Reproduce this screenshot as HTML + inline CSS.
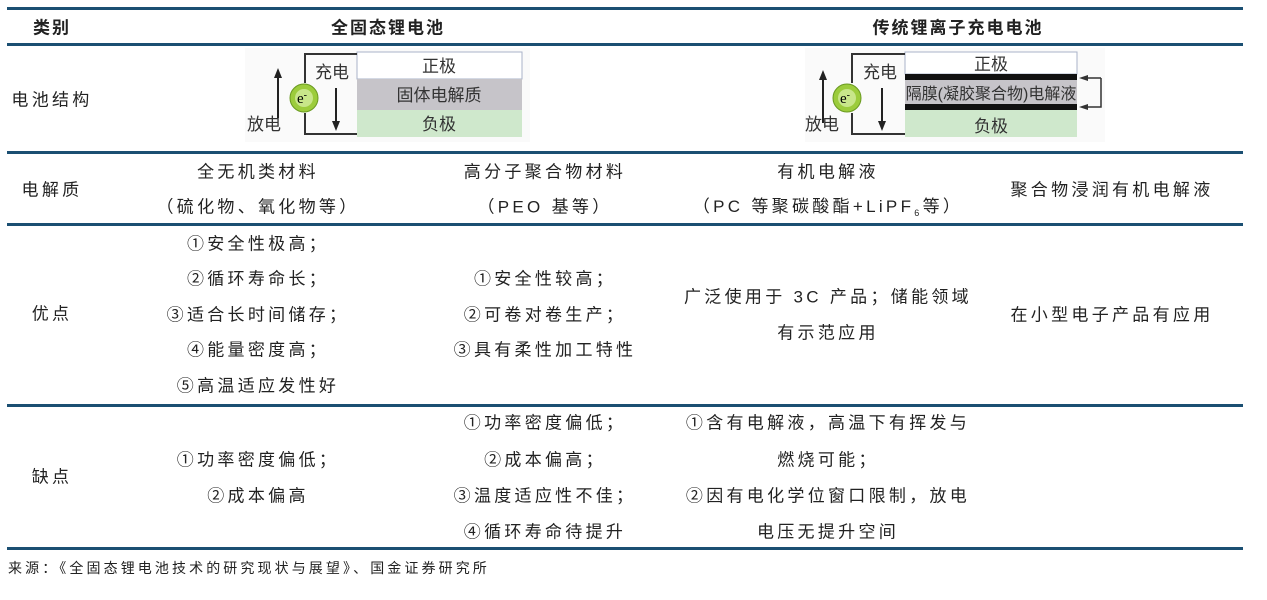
<!DOCTYPE html>
<html><head><meta charset="utf-8"><style>
body{margin:0;width:1267px;height:600px;background:#fff;position:relative;overflow:hidden;font-family:"Liberation Sans","Noto Sans CJK SC",sans-serif;color:#222}
.h{position:absolute;left:7px;width:1236px;height:3px;background:#1b4f72}
.t{position:absolute;transform:translate(-50%,-50%);white-space:nowrap;font-size:17px;letter-spacing:3.3px}
.b{font-weight:bold;letter-spacing:2px}
</style></head><body>
<div class="h" style="top:7px"></div>
<div class="h" style="top:43px"></div>
<div class="h" style="top:151px"></div>
<div class="h" style="top:223px"></div>
<div class="h" style="top:404px"></div>
<div class="h" style="top:547px"></div>

<div class="t b" style="left:52px;top:26px">类别</div>
<div class="t b" style="left:388px;top:26px">全固态锂电池</div>
<div class="t b" style="left:958px;top:26px">传统锂离子充电电池</div>

<div class="t" style="left:52px;top:98px">电池结构</div>
<div class="t" style="left:52px;top:188px">电解质</div>
<div class="t" style="left:52px;top:312px">优点</div>
<div class="t" style="left:52px;top:475px">缺点</div>

<svg style="position:absolute;left:245px;top:48px" width="285" height="94">
<rect x="0" y="0" width="285" height="94" fill="#fafafa"/>
<rect x="112" y="4" width="165" height="27" fill="#fff" stroke="#a9b3c8"/>
<rect x="112" y="31" width="165" height="31" fill="#c6c4c9"/>
<rect x="112" y="62" width="165" height="27" fill="#cfe8cc"/>
<path d="M112 6 H60 V35 M60 65 V86 H112" fill="none" stroke="#333" stroke-width="2"/>
<circle cx="59" cy="50" r="14" fill="#9ccc3c" stroke="#6a9a20"/>
<circle cx="59" cy="50" r="9" fill="#c8e68a"/>
<text x="52" y="55" font-size="15" font-family="Liberation Serif">e<tspan font-size="10" dy="-5">-</tspan></text>
<path d="M33 70 V28" stroke="#222" stroke-width="2"/><path d="M29 30 L33 20 L37 30Z" fill="#222"/>
<path d="M91 40 V75" stroke="#222" stroke-width="2"/><path d="M87 73 L91 83 L95 73Z" fill="#222"/>
<text x="70" y="30" font-size="17" fill="#333">充电</text>
<text x="2" y="82" font-size="17" fill="#333">放电</text>
<text x="194" y="24" font-size="17" fill="#333" text-anchor="middle">正极</text>
<text x="194" y="53" font-size="17" fill="#333" text-anchor="middle">固体电解质</text>
<text x="194" y="82" font-size="17" fill="#333" text-anchor="middle">负极</text>
</svg>

<svg style="position:absolute;left:805px;top:48px" width="300" height="94">
<rect x="0" y="0" width="300" height="94" fill="#fafafa"/>
<rect x="100" y="4" width="172" height="22" fill="#fff" stroke="#a9b3c8"/>
<rect x="100" y="26" width="172" height="6" fill="#111"/>
<rect x="100" y="32" width="172" height="24" fill="#c6c4c9"/>
<rect x="100" y="56" width="172" height="6" fill="#111"/>
<rect x="100" y="62" width="172" height="27" fill="#cfe8cc"/>
<path d="M100 6 H47 V35 M47 65 V86 H100" fill="none" stroke="#333" stroke-width="2"/>
<circle cx="42" cy="50" r="14" fill="#9ccc3c" stroke="#6a9a20"/>
<circle cx="42" cy="50" r="9" fill="#c8e68a"/>
<text x="35" y="55" font-size="15" font-family="Liberation Serif">e<tspan font-size="10" dy="-5">-</tspan></text>
<path d="M18 75 V30" stroke="#222" stroke-width="2"/><path d="M14 32 L18 22 L22 32Z" fill="#222"/>
<path d="M77 40 V75" stroke="#222" stroke-width="2"/><path d="M73 73 L77 83 L81 73Z" fill="#222"/>
<path d="M296 30 H282 M296 30 V59 H282" fill="none" stroke="#333" stroke-width="1.5"/>
<path d="M274 30 L283 27 L283 33Z M274 59 L283 56 L283 62Z" fill="#333"/>
<text x="58" y="30" font-size="17" fill="#333">充电</text>
<text x="0" y="82" font-size="17" fill="#333">放电</text>
<text x="186" y="22" font-size="17" fill="#333" text-anchor="middle">正极</text>
<text x="186" y="51" font-size="16" fill="#333" text-anchor="middle">隔膜(凝胶聚合物)电解液</text>
<text x="186" y="84" font-size="17" fill="#333" text-anchor="middle">负极</text>
</svg>

<div class="t" style="left:258px;top:170px">全无机类材料</div>
<div class="t" style="left:258px;top:205px">（硫化物、氧化物等）</div>
<div class="t" style="left:545px;top:170px">高分子聚合物材料</div>
<div class="t" style="left:545px;top:205px">（PEO 基等）</div>
<div class="t" style="left:828px;top:170px">有机电解液</div>
<div class="t" style="left:828px;top:205px">（PC 等聚碳酸酯+LiPF<sub style="font-size:9px">6</sub>等）</div>
<div class="t" style="left:1112px;top:188px">聚合物浸润有机电解液</div>

<div class="t" style="left:258px;top:242px">①安全性极高；</div>
<div class="t" style="left:258px;top:277px">②循环寿命长；</div>
<div class="t" style="left:258px;top:313px">③适合长时间储存；</div>
<div class="t" style="left:258px;top:348px">④能量密度高；</div>
<div class="t" style="left:258px;top:384px">⑤高温适应发性好</div>
<div class="t" style="left:545px;top:277px">①安全性较高；</div>
<div class="t" style="left:545px;top:313px">②可卷对卷生产；</div>
<div class="t" style="left:545px;top:348px">③具有柔性加工特性</div>
<div class="t" style="left:828px;top:295px">广泛使用于 3C 产品；储能领域</div>
<div class="t" style="left:828px;top:331px">有示范应用</div>
<div class="t" style="left:1112px;top:313px">在小型电子产品有应用</div>

<div class="t" style="left:258px;top:458px">①功率密度偏低；</div>
<div class="t" style="left:258px;top:494px">②成本偏高</div>
<div class="t" style="left:545px;top:421px">①功率密度偏低；</div>
<div class="t" style="left:545px;top:458px">②成本偏高；</div>
<div class="t" style="left:545px;top:494px">③温度适应性不佳；</div>
<div class="t" style="left:545px;top:530px">④循环寿命待提升</div>
<div class="t" style="left:828px;top:421px">①含有电解液，高温下有挥发与</div>
<div class="t" style="left:828px;top:458px">燃烧可能；</div>
<div class="t" style="left:828px;top:494px">②因有电化学位窗口限制，放电</div>
<div class="t" style="left:828px;top:530px">电压无提升空间</div>

<div style="position:absolute;left:8px;top:558px;font-size:14px;letter-spacing:3.1px;white-space:nowrap">来源：《全固态锂电池技术的研究现状与展望》、国金证券研究所</div>
</body></html>
